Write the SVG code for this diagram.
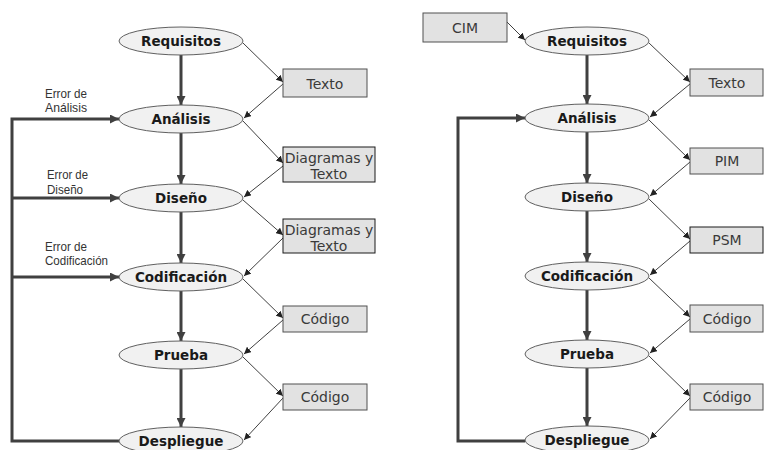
<svg xmlns="http://www.w3.org/2000/svg" width="764" height="450" viewBox="0 0 764 450">
<style>
.el{fill:#f1f1f1;stroke:#606060;stroke-width:1}
.bx{fill:#e2e2e2;stroke:#505050;stroke-width:1}
.bxd{fill:#e2e2e2;stroke:#1a1a1a;stroke-width:1}
.nt{font-family:"DejaVu Sans",Verdana,sans-serif;font-weight:bold;font-size:13.5px;fill:#1a1a1a;text-anchor:middle}
.bt{font-family:"DejaVu Sans",Verdana,sans-serif;font-size:14px;fill:#3a3a3a;text-anchor:middle}
.lt{font-family:"Liberation Sans",Arial,sans-serif;font-size:13px;fill:#333}
.thick{stroke:#404040;stroke-width:3;fill:none}
.thin{stroke:#404040;stroke-width:1;fill:none}
</style>
<defs>
<marker id="ah" viewBox="0 0 10 10" refX="10" refY="5" markerWidth="9" markerHeight="9" markerUnits="userSpaceOnUse" orient="auto"><path d="M0,0 L10,5 L0,10 z" fill="#404040"/></marker>
<marker id="as" viewBox="0 0 10 10" refX="10" refY="5" markerWidth="7" markerHeight="7" markerUnits="userSpaceOnUse" orient="auto"><path d="M0,0 L10,5 L0,10 z" fill="#222"/></marker>
</defs>

<g id="connectors">
<line class="thick" x1="181" y1="55" x2="181" y2="105" marker-end="url(#ah)"/>
<line class="thick" x1="181" y1="133" x2="181" y2="184" marker-end="url(#ah)"/>
<line class="thick" x1="181" y1="212" x2="181" y2="263" marker-end="url(#ah)"/>
<line class="thick" x1="181" y1="291" x2="181" y2="341" marker-end="url(#ah)"/>
<line class="thick" x1="181" y1="369" x2="181" y2="427" marker-end="url(#ah)"/>
<polyline class="thick" points="119,441 12,441 12,119 119,119" marker-end="url(#ah)"/>
<line class="thick" x1="12" y1="198" x2="119" y2="198" marker-end="url(#ah)"/>
<line class="thick" x1="12" y1="277" x2="119" y2="277" marker-end="url(#ah)"/>
<line class="thin" x1="243" y1="43" x2="283" y2="82" marker-end="url(#as)"/>
<line class="thin" x1="283" y1="84" x2="244" y2="118" marker-end="url(#as)"/>
<line class="thin" x1="243" y1="121" x2="283" y2="163" marker-end="url(#as)"/>
<line class="thin" x1="283" y1="166" x2="244" y2="197" marker-end="url(#as)"/>
<line class="thin" x1="243" y1="200" x2="283" y2="235" marker-end="url(#as)"/>
<line class="thin" x1="283" y1="238" x2="244" y2="276" marker-end="url(#as)"/>
<line class="thin" x1="243" y1="279" x2="283" y2="318" marker-end="url(#as)"/>
<line class="thin" x1="283" y1="320" x2="244" y2="354" marker-end="url(#as)"/>
<line class="thin" x1="243" y1="357" x2="283" y2="396" marker-end="url(#as)"/>
<line class="thin" x1="283" y1="398" x2="244" y2="440" marker-end="url(#as)"/>

<line class="thick" x1="587" y1="55" x2="587" y2="104" marker-end="url(#ah)"/>
<line class="thick" x1="587" y1="132" x2="587" y2="183" marker-end="url(#ah)"/>
<line class="thick" x1="587" y1="211" x2="587" y2="262" marker-end="url(#ah)"/>
<line class="thick" x1="587" y1="290" x2="587" y2="340" marker-end="url(#ah)"/>
<line class="thick" x1="587" y1="368" x2="587" y2="426" marker-end="url(#ah)"/>
<polyline class="thick" points="525,441 458,441 458,118 525,118" marker-end="url(#ah)"/>
<line class="thin" x1="507" y1="22" x2="525" y2="40" marker-end="url(#as)"/>
<line class="thin" x1="649" y1="43" x2="690" y2="82" marker-end="url(#as)"/>
<line class="thin" x1="690" y1="84" x2="650" y2="117" marker-end="url(#as)"/>
<line class="thin" x1="649" y1="120" x2="690" y2="160" marker-end="url(#as)"/>
<line class="thin" x1="690" y1="162" x2="650" y2="196" marker-end="url(#as)"/>
<line class="thin" x1="649" y1="199" x2="690" y2="239" marker-end="url(#as)"/>
<line class="thin" x1="690" y1="241" x2="650" y2="275" marker-end="url(#as)"/>
<line class="thin" x1="649" y1="278" x2="690" y2="317" marker-end="url(#as)"/>
<line class="thin" x1="690" y1="319" x2="650" y2="353" marker-end="url(#as)"/>
<line class="thin" x1="649" y1="356" x2="690" y2="396" marker-end="url(#as)"/>
<line class="thin" x1="690" y1="398" x2="650" y2="439" marker-end="url(#as)"/>
</g>

<g id="labels">
<text class="lt" x="45" y="98" textLength="42" lengthAdjust="spacingAndGlyphs">Error de</text>
<text class="lt" x="45" y="112" textLength="42" lengthAdjust="spacingAndGlyphs">Análisis</text>
<text class="lt" x="47" y="179" textLength="41" lengthAdjust="spacingAndGlyphs">Error de</text>
<text class="lt" x="47" y="194" textLength="36" lengthAdjust="spacingAndGlyphs">Diseño</text>
<text class="lt" x="45" y="251" textLength="42" lengthAdjust="spacingAndGlyphs">Error de</text>
<text class="lt" x="45" y="265" textLength="63" lengthAdjust="spacingAndGlyphs">Codificación</text>
</g>

<g id="l-requisitos"><ellipse class="el" cx="181" cy="41" rx="62" ry="14"/><text class="nt" x="181" y="46">Requisitos</text></g>
<g id="l-analisis"><ellipse class="el" cx="181" cy="119" rx="62" ry="14"/><text class="nt" x="181" y="124">Análisis</text></g>
<g id="l-diseno"><ellipse class="el" cx="181" cy="198" rx="62" ry="14"/><text class="nt" x="181" y="203">Diseño</text></g>
<g id="l-codificacion"><ellipse class="el" cx="181" cy="277" rx="62" ry="14"/><text class="nt" x="181" y="282">Codificación</text></g>
<g id="l-prueba"><ellipse class="el" cx="181" cy="355" rx="62" ry="14"/><text class="nt" x="181" y="360">Prueba</text></g>
<g id="l-despliegue"><ellipse class="el" cx="181" cy="441" rx="62" ry="14"/><text class="nt" x="181" y="446">Despliegue</text></g>

<g id="l-texto"><rect class="bx" x="283" y="69" width="84" height="28"/><text class="bt" x="325" y="89">Texto</text></g>
<g id="l-diag1"><rect class="bxd" x="283" y="147" width="92" height="35"/><text class="bt" x="329" y="163">Diagramas y</text><text class="bt" x="329" y="179">Texto</text></g>
<g id="l-diag2"><rect class="bxd" x="283" y="219" width="92" height="34"/><text class="bt" x="329" y="235">Diagramas y</text><text class="bt" x="329" y="251">Texto</text></g>
<g id="l-codigo1"><rect class="bx" x="283" y="306" width="84" height="26"/><text class="bt" x="325" y="324">Código</text></g>
<g id="l-codigo2"><rect class="bx" x="283" y="384" width="84" height="26"/><text class="bt" x="325" y="402">Código</text></g>

<g id="r-cim"><rect class="bx" x="423" y="13" width="84" height="29"/><text class="bt" x="465" y="33">CIM</text></g>
<g id="r-requisitos"><ellipse class="el" cx="587" cy="41" rx="62" ry="14"/><text class="nt" x="587" y="46">Requisitos</text></g>
<g id="r-analisis"><ellipse class="el" cx="587" cy="118" rx="62" ry="14"/><text class="nt" x="587" y="123">Análisis</text></g>
<g id="r-diseno"><ellipse class="el" cx="587" cy="197" rx="62" ry="14"/><text class="nt" x="587" y="202">Diseño</text></g>
<g id="r-codificacion"><ellipse class="el" cx="587" cy="276" rx="62" ry="14"/><text class="nt" x="587" y="281">Codificación</text></g>
<g id="r-prueba"><ellipse class="el" cx="587" cy="354" rx="62" ry="14"/><text class="nt" x="587" y="359">Prueba</text></g>
<g id="r-despliegue"><ellipse class="el" cx="587" cy="440" rx="62" ry="14"/><text class="nt" x="587" y="445">Despliegue</text></g>

<g id="r-texto"><rect class="bx" x="690" y="69" width="73" height="27"/><text class="bt" x="727" y="88">Texto</text></g>
<g id="r-pim"><rect class="bx" x="690" y="148" width="73" height="26"/><text class="bt" x="727" y="166">PIM</text></g>
<g id="r-psm"><rect class="bxd" x="690" y="227" width="73" height="26"/><text class="bt" x="727" y="245">PSM</text></g>
<g id="r-codigo1"><rect class="bx" x="690" y="305" width="73" height="27"/><text class="bt" x="727" y="324">Código</text></g>
<g id="r-codigo2"><rect class="bx" x="690" y="384" width="73" height="26"/><text class="bt" x="727" y="402">Código</text></g>
</svg>
